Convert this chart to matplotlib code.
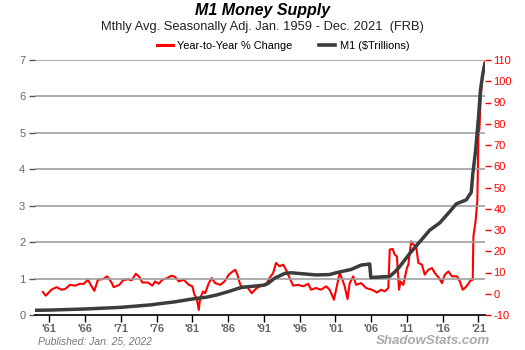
import matplotlib
matplotlib.use("Agg")
import matplotlib.pyplot as plt
from matplotlib.lines import Line2D

plt.rcParams['font.family'] = ['Liberation Sans', 'DejaVu Sans']

# M1 level ($ trillions), left axis
m1_years = [1959.0, 1961.0, 1966.0, 1971.0, 1975.3, 1976.0, 1978.5, 1981.0, 1983.0, 1984.4, 1986.0,
            1987.4, 1988.0, 1989.0, 1991.1, 1991.6, 1992.5, 1993.9, 1994.8, 1996.5, 1998.3,
            2000.2, 2001.1, 2003.2, 2004.6, 2005.8, 2005.95, 2007.0, 2007.9, 2008.6, 2009.3,
            2010.0, 2011.4, 2012.8, 2014.2, 2015.6, 2017.0, 2017.9, 2019.3, 2020.0, 2020.2,
            2020.6, 2021.0, 2021.3, 2021.6, 2021.92]
m1_values = [0.13, 0.135, 0.165, 0.21, 0.28, 0.30, 0.36, 0.44, 0.49, 0.55, 0.64,
             0.73, 0.76, 0.78, 0.82, 0.87, 1.01, 1.14, 1.16, 1.13, 1.10,
             1.11, 1.16, 1.25, 1.37, 1.40, 1.03, 1.04, 1.05, 1.06, 1.18,
             1.33, 1.69, 2.01, 2.33, 2.53, 2.84, 3.05, 3.16, 3.37, 3.85,
             4.50, 5.40, 6.20, 6.60, 6.93]

# Year-to-year % change, right axis
yoy_years = [1960.1, 1960.5, 1961.3, 1962.0, 1962.7, 1963.2, 1963.9, 1964.6, 1965.3, 1965.8,
             1966.4, 1966.9, 1967.3, 1967.8, 1968.5, 1969.1, 1969.7, 1970.0, 1970.8, 1971.3,
             1972.0, 1972.5, 1973.1, 1973.6, 1974.0, 1974.8, 1975.4, 1975.8, 1976.3, 1976.8,
             1977.5, 1978.1, 1978.6, 1979.1, 1979.8, 1980.5, 1981.0, 1981.3, 1981.6, 1981.9,
             1982.1, 1982.5, 1982.8, 1983.3, 1983.7, 1984.2, 1984.9, 1985.5, 1986.1, 1986.5,
             1987.0, 1987.3, 1987.7, 1988.1, 1988.6, 1989.3, 1990.0, 1990.9, 1991.4, 1991.8,
             1992.3, 1992.7, 1993.2, 1993.7, 1994.1, 1994.5, 1995.1, 1995.8, 1996.5, 1997.2,
             1997.6, 1998.3, 1999.0, 1999.7, 2000.2, 2000.8, 2001.1, 2001.6, 2001.9, 2002.3,
             2002.7, 2003.0, 2003.5, 2003.9, 2004.6, 2005.3, 2006.1, 2006.8, 2007.4, 2007.9,
             2008.4, 2008.6, 2009.0, 2009.3, 2009.6, 2009.9, 2010.1, 2010.5, 2011.0, 2011.2,
             2011.6, 2011.9, 2012.3, 2012.6, 2013.1, 2013.5, 2014.0, 2014.5, 2014.9, 2015.5,
             2015.9, 2016.3, 2016.8, 2017.3, 2018.0, 2018.4, 2018.8, 2019.1, 2019.5, 2019.9,
             2020.2, 2020.3, 2020.6, 2020.85, 2021.0, 2021.15, 2021.3, 2021.6, 2021.92]
yoy_values = [0.8, -0.9, 1.9, 3.1, 1.9, 2.2, 4.2, 3.8, 4.7, 4.6,
              6.6, 3.5, 1.4, 6.6, 6.9, 8.2, 5.3, 3.1, 4.2, 6.3,
              6.9, 6.3, 9.4, 7.9, 5.3, 5.3, 3.8, 5.8, 4.7, 6.6,
              7.4, 8.5, 7.9, 5.8, 6.6, 4.2, 3.5, -0.5, -2.0, -7.6,
              -2.0, 1.1, 0.3, 5.0, 7.4, 5.0, 4.2, 5.8, 9.0, 10.1,
              11.3, 9.0, 4.2, 2.7, 3.5, 0.3, 2.7, 4.2, 5.0, 7.4,
              9.8, 14.5, 12.9, 13.7, 11.3, 8.2, 3.8, 4.2, 3.5, 4.7,
              1.9, 2.7, 1.9, 3.5, 1.9, -2.8, 1.9, 9.8, 7.4, 3.5,
              -2.5, 5.0, 8.2, 4.2, 5.0, 2.7, 1.9, 0.6, 1.9, 1.1,
              2.7, 20.8, 21.1, 18.4, 17.6, 1.9, 5.8, 4.2, 12.1, 13.7,
              24.7, 23.1, 22.3, 14.5, 13.7, 9.0, 11.3, 12.1, 9.8, 7.4,
              5.0, 9.0, 10.5, 8.2, 8.2, 5.8, 1.9, 2.7, 4.2, 6.3,
              6.6, 27.0, 34.1, 44.0, 74.0, 78.0, 91.0, 104.0, 109.0]

left_ticks = [0, 1, 2, 3, 4, 5, 6, 7]
right_ticks = [-10, 0, 10, 20, 30, 40, 50, 60, 70, 80, 90, 100, 110]
x_ticks = [1961, 1966, 1971, 1976, 1981, 1986, 1991, 1996, 2001, 2006, 2011, 2016, 2021]
x_labels = ["'61", "'66", "'71", "'76", "'81", "'86", "'91", "'96", "'01", "'06", "'11", "'16", "'21"]

fig = plt.figure(figsize=(5.25, 3.5), dpi=100)
ax = fig.add_axes([35/525, 1-315/350, 450/525, 255/350])
ax2 = ax.twinx()

ax.set_xlim(1959.0, 2021.92)
ax.set_ylim(0, 7)
ax2.set_ylim(-10, 110)

for v in left_ticks[1:]:
    ax.axhline(v, color='#a0a0a0', lw=1.2, zorder=0)

ax.plot(m1_years, m1_values, color='#3c3c3c', lw=2.5, zorder=3, solid_capstyle='butt')
ax2.plot(yoy_years, yoy_values, color='#ff0000', lw=1.5, zorder=4)

ax.set_zorder(ax2.get_zorder() + 1)
ax.patch.set_visible(False)

for a in (ax, ax2):
    for s in ('left', 'right', 'top'):
        a.spines[s].set_visible(False)
ax.spines['bottom'].set_color('black')
ax.spines['bottom'].set_linewidth(1.2)
ax2.spines['bottom'].set_visible(False)

ax.set_yticks(left_ticks)
ax.set_yticklabels([str(v) for v in left_ticks])
ax.tick_params(axis='y', length=4, width=1, color='#555555', labelcolor='#666666',
               labelsize=8, pad=3)
ax2.set_yticks(right_ticks)
ax2.set_yticklabels([str(v) for v in right_ticks])
ax2.tick_params(axis='y', length=4, width=1, color='#ff0000', labelcolor='#ff0000',
                labelsize=8, pad=2)

ax.set_xticks(x_ticks)
ax.set_xticklabels(x_labels, fontweight='bold', color='#666666', fontsize=8)
ax.tick_params(axis='x', length=5, width=1, color='black', pad=1.5)

fig.text(0.5, 1-11/350, 'M1 Money Supply', ha='center', va='center',
         fontsize=11.5, fontweight='bold', fontstyle='italic', color='black')
fig.text(0.5, 1-27/350, 'Mthly Avg. Seasonally Adj. Jan. 1959 - Dec. 2021  (FRB)',
         ha='center', va='center', fontsize=9.3, color='#222222')

handles = [Line2D([], [], color='#ff0000', lw=2.2), Line2D([], [], color='#3c3c3c', lw=2.6)]
fig.legend(handles, ['Year-to-Year % Change', 'M1 ($Trillions)'], loc='center',
           bbox_to_anchor=(283/525, 1-46/350), ncol=2, frameon=False, fontsize=7.9,
           handlelength=1.5, handletextpad=0.4, columnspacing=2.4)

fig.text(38/525, 1-342/350, 'Published: Jan. 25, 2022', ha='left', va='center',
         fontsize=7.5, fontstyle='italic', color='#777777')
fig.text(490/525, 1-341/350, 'ShadowStats.com', ha='right', va='center',
         fontsize=9.5, fontstyle='italic', fontweight='bold', color='#aaaaaa')

fig.savefig('out.png', dpi=100)
